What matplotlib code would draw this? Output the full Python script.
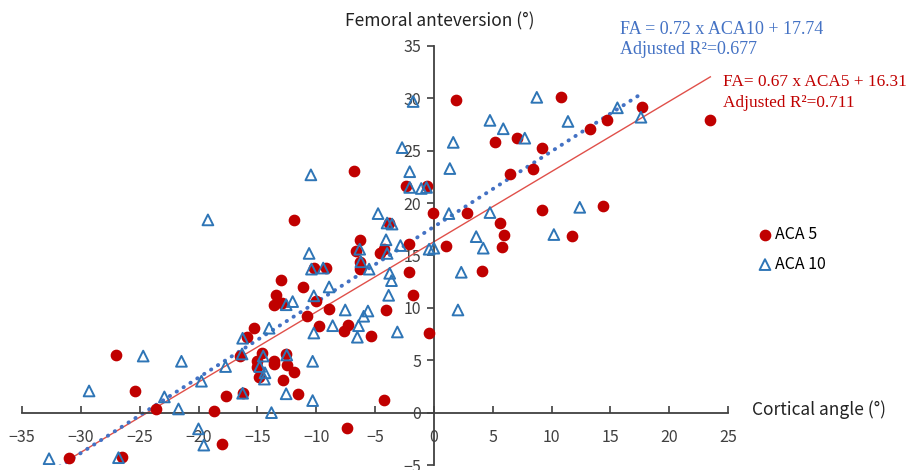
import numpy as np
import matplotlib
matplotlib.use('Agg')
import matplotlib.pyplot as plt

plt.rcParams['font.family'] = ['Noto Sans CJK KR', 'DejaVu Sans']

# ACA 5 (red circles)
aca5_x = [-31.0, -26.5, -27.05, -25.4, -23.6, -18.7, -17.7, -18.0, -16.25, -16.5,
          -15.85, -15.3, -14.6, -15.0, -15.05, -14.9, -13.55, -13.55, -12.85, -12.5,
          -11.9, -12.6, -11.55, -13.0, -13.4, -13.6, -12.9, -11.1, -10.8, -9.8,
          -10.0, -10.2, -9.2, -8.95, -11.85, -6.8, -7.6, -7.3, -7.4, -6.3,
          -6.6, -6.3, -6.25, -5.3, -4.6, -4.26, -3.84, -4.06, -4.26, -2.35,
          -2.07, -2.07, -1.76, -0.43, -0.05, 1.0, 1.85, 2.79, 4.07, 5.17,
          5.6, 5.97, 5.83, 6.48, 7.05, 8.47, 9.2, 9.2, 10.8, 11.7,
          13.3, 14.7, 14.4, 17.7, 23.5, -0.6]
aca5_y = [-4.3, -4.2, 5.5, 2.1, 0.35, 0.15, 1.6, -3.0, 1.85, 5.4,
          7.2, 8.1, 5.7, 4.9, 4.4, 3.4, 4.9, 4.6, 3.1, 4.5,
          3.9, 5.6, 1.8, 12.7, 11.2, 10.3, 10.45, 12.0, 9.2, 8.3,
          10.7, 13.8, 13.8, 9.9, 18.4, 23.1, 7.8, 8.4, -1.5, 16.5,
          15.4, 14.4, 13.7, 7.3, 15.2, 15.6, 18.15, 9.8, 1.2, 21.6,
          16.1, 13.4, 11.2, 7.6, 19.1, 15.9, 29.8, 19.1, 13.5, 25.85,
          18.15, 17.0, 15.8, 22.8, 26.2, 23.3, 25.3, 19.3, 30.1, 16.9,
          27.1, 27.9, 19.7, 29.2, 27.9, 21.6]

# ACA 10 (blue open triangles)
aca10_x = [-32.7, -26.8, -29.3, -24.7, -21.45, -22.9, -21.7, -19.75, -20.0, -19.55,
           -17.7, -19.2, -16.25, -16.25, -16.3, -14.0, -14.5, -14.8, -14.35, -14.4,
           -13.8, -12.5, -12.55, -12.55, -12.0, -10.6, -10.4, -9.4, -10.2, -10.2,
           -10.3, -10.3, -8.9, -8.6, -10.45, -4.74, -3.97, -3.55, -6.3, -6.2,
           -5.5, -4.06, -3.97, -2.84, -3.75, -3.6, -3.84, -7.53, -6.4, -6.5,
           -5.96, -5.6, -3.1, -0.4, 0.0, 1.28, -2.05, -2.05, -1.07, -0.62,
           1.36, -1.76, -2.7, 1.65, 4.77, 5.9, 7.73, 8.75, 4.77, 3.6,
           4.2, 10.2, 2.33, 2.05, 11.4, 15.6, 17.6, 12.4]
aca10_y = [-4.4, -4.3, 2.07, 5.4, 4.9, 1.5, 0.35, 3.0, -1.55, -3.1,
           4.4, 18.4, 7.1, 1.85, 5.6, 8.06, 5.4, 4.4, 3.8, 3.2,
           0.0, 5.5, 1.8, 10.3, 10.6, 15.2, 13.7, 13.8, 11.15, 7.6,
           4.9, 1.15, 12.0, 8.3, 22.7, 19.0, 18.1, 18.0, 15.6, 14.4,
           13.7, 16.5, 15.2, 15.95, 13.3, 12.6, 11.2, 9.8, 8.3, 7.2,
           9.2, 9.7, 7.7, 15.6, 15.7, 19.0, 23.0, 21.5, 21.4, 21.5,
           23.3, 29.7, 25.3, 25.8, 27.9, 27.1, 26.2, 30.1, 19.1, 16.8,
           15.7, 17.0, 13.4, 9.8, 27.8, 29.1, 28.2, 19.6]

# trendlines (slope, intercept) as printed on the chart
fit5 = [0.67, 16.31]
fit10 = [0.72, 17.74]

x_ticks = [-35, -30, -25, -20, -15, -10, -5, 0, 5, 10, 15, 20, 25]
y_ticks = [-5, 0, 5, 10, 15, 20, 25, 30, 35]

red = '#C00000'
blue = '#2E75B6'

fig = plt.figure(figsize=(9.13, 4.70), dpi=100)
ax = fig.add_axes([22/913, 5/470, 706/913, 419/470])

ax.scatter(aca5_x, aca5_y, s=55, color=red, zorder=3, label='ACA 5')
ax.scatter(aca10_x, aca10_y, s=60, marker='^', facecolors='none',
           edgecolors=blue, linewidths=1.4, zorder=4, label='ACA 10')

xr5 = np.array([min(aca5_x), max(aca5_x)])
ax.plot(xr5, fit5[0]*xr5 + fit5[1], color='#E0504A', lw=1.0, zorder=2)
xr10 = np.array([min(aca10_x), max(aca10_x)])
ax.plot(xr10, fit10[0]*xr10 + fit10[1], color='#4472C4', lw=2.8,
        linestyle=(0, (0.1, 2.0)), dash_capstyle='round', zorder=2)

ax.set_xlim(-35, 25)
ax.set_ylim(-5, 35)
ax.set_xticks(x_ticks)
ax.set_yticks(y_ticks)
ax.spines['left'].set_position(('data', 0))
ax.spines['bottom'].set_position(('data', 0))
ax.spines['top'].set_visible(False)
ax.spines['right'].set_visible(False)
for s in ['left', 'bottom']:
    ax.spines[s].set_color('#404040')
    ax.spines[s].set_linewidth(1.3)
ax.tick_params(axis='x', direction='in', length=5, width=1.2, color='#404040',
               labelsize=11.5, labelcolor='#404040', pad=12)
ax.tick_params(axis='y', direction='out', length=5, width=1.2, color='#404040',
               labelsize=11.5, labelcolor='#404040', pad=4)
ax.patch.set_alpha(0)

fig.text(440/913, 1 - 21/470, 'Femoral anteversion (°)', ha='center', va='center',
         fontsize=12.5, color='#222222')
fig.text(752/913, 1 - 410/470, 'Cortical angle (°)', ha='left', va='center',
         fontsize=12.5, color='#222222')

fig.text(620/913, 1 - 29/470, 'FA = 0.72 x ACA10 + 17.74', ha='left', va='center',
         fontsize=13, color='#4472C4', family='Liberation Serif')
fig.text(620/913, 1 - 50/470, 'Adjusted R²=0.677', ha='left', va='center',
         fontsize=13, color='#4472C4', family='Liberation Serif')
fig.text(723/913, 1 - 82/470, 'FA= 0.67 x ACA5 + 16.31', ha='left', va='center',
         fontsize=12.4, color=red, family='Liberation Serif')
fig.text(723/913, 1 - 103/470, 'Adjusted R²=0.711', ha='left', va='center',
         fontsize=12.4, color=red, family='Liberation Serif')

fig.legend(loc='upper left', bbox_to_anchor=(757/913, 1 - 226/470), frameon=False,
           handletextpad=0.1, handlelength=1.0, labelspacing=0.8, fontsize=11.5,
           borderaxespad=0, borderpad=0)

fig.savefig('out.png', dpi=100)
